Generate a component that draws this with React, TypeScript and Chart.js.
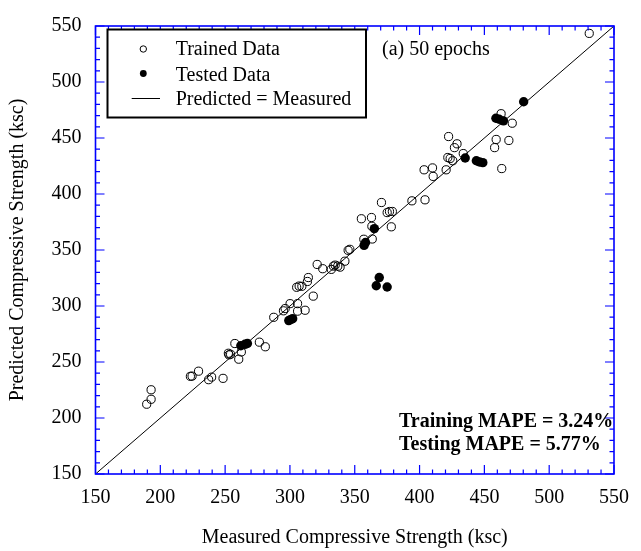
import React, { useEffect, useRef } from "react";
import { Chart, registerables } from "chart.js";

Chart.register(...registerables);

// ---- data ----
const trainedMeasured = [
  189.5, 192.9, 192.9, 223.2, 224.5, 229.5, 237.3, 239.6, 248.4, 252.5,
  253.0, 254.2, 257.5, 260.5, 262.5, 276.4, 281.0, 287.5, 295.0, 296.3,
  300.1, 305.9, 305.9, 311.7, 318.0, 305.2, 307.1, 309.2, 313.5, 314.2,
  321.0, 325.3, 331.9, 333.6, 334.9, 336.9, 338.7, 342.4, 344.9, 346.2,
  355.1, 362.9, 363.2, 357.0, 363.5, 370.6, 375.0, 376.8, 379.0, 378.2,
  394.1, 404.2, 403.5, 410.0, 410.5, 420.5, 421.8, 423.6, 425.6, 426.9,
  428.9, 422.4, 433.7, 463.4, 457.9, 459.1, 468.9, 462.9, 471.5, 530.9,
];
const trainedPredicted = [
  212.3, 216.7, 225.2, 237.2, 237.4, 241.8, 234.2, 236.5, 235.4, 257.8,
  256.4, 256.9, 266.5, 252.5, 259.0, 267.7, 263.6, 289.9, 295.7, 297.7,
  302.1, 302.1, 295.4, 296.2, 308.8, 316.7, 317.8, 317.6, 321.9, 325.4,
  337.1, 333.3, 332.7, 335.6, 336.5, 335.6, 334.7, 340.0, 349.7, 350.6,
  377.9, 379.0, 371.2, 359.6, 359.8, 392.4, 383.4, 384.4, 384.4, 370.7,
  393.9, 394.8, 421.6, 423.3, 415.7, 421.6, 432.6, 431.7, 429.7, 441.4,
  444.8, 451.3, 436.1, 422.7, 441.4, 448.7, 447.8, 471.7, 463.2, 543.4,
];
const testedMeasured = [
  262.1, 265.3, 267.2, 299.1, 300.9, 302.1, 357.2, 358.3, 365.1, 368.9,
  366.6, 375.0, 435.2, 443.8, 446.3, 448.8, 458.9, 461.4, 464.7, 480.3,
];
const testedPredicted = [
  264.5, 265.8, 266.5, 287.0, 288.1, 288.7, 354.1, 356.7, 369.1, 325.4,
  318.1, 317.0, 432.1, 429.7, 428.6, 428.0, 467.6, 466.7, 465.3, 482.4,
];
const equalityLine = [150, 550];
const axisMin = 150;
const axisMax = 550;
const majorStep = 50;
const minorStep = 10;
const legendLabels = ["Trained Data", "Tested Data", "Predicted = Measured"];
const panelLabel = "(a) 50 epochs";
const mapeLines = ["Training MAPE = 3.24%", "Testing MAPE = 5.77%"];
const xTitle = "Measured Compressive Strength (ksc)";
const yTitle = "Predicted Compressive Strength (ksc)";

const FONT = "'Liberation Serif', 'Times New Roman', serif";
const FRAME = "#0000ff";

const framePlugin = {
  id: "frameTicks",
  afterDatasetsDraw(chart: any) {
    const { ctx, chartArea } = chart;
    const { left, right, top, bottom } = chartArea;
    const xs = chart.scales.x;
    const ys = chart.scales.y;
    ctx.save();
    ctx.strokeStyle = FRAME;
    ctx.lineWidth = 1.2;
    ctx.beginPath();
    for (let v = axisMin; v <= axisMax; v += minorStep) {
      const major = v % majorStep === 0;
      const len = major ? 9 : 4.5;
      const px = xs.getPixelForValue(v);
      const py = ys.getPixelForValue(v);
      ctx.moveTo(px, bottom);
      ctx.lineTo(px, bottom - len);
      ctx.moveTo(px, top);
      ctx.lineTo(px, top + len);
      ctx.moveTo(left, py);
      ctx.lineTo(left + len, py);
      ctx.moveTo(right, py);
      ctx.lineTo(right - len, py);
    }
    ctx.stroke();
    ctx.lineWidth = 1.6;
    ctx.strokeRect(left, top, right - left, bottom - top);
    ctx.restore();
  },
  afterDraw(chart: any) {
    const { ctx } = chart;
    ctx.save();
    // legend box
    ctx.fillStyle = "#ffffff";
    ctx.fillRect(107.5, 29.5, 258.5, 88);
    ctx.strokeStyle = "#000";
    ctx.lineWidth = 2;
    ctx.strokeRect(107.5, 29.5, 258.5, 88);
    // markers
    ctx.lineWidth = 1;
    ctx.beginPath();
    ctx.arc(143.3, 49, 3.2, 0, Math.PI * 2);
    ctx.stroke();
    ctx.fillStyle = "#000";
    ctx.beginPath();
    ctx.arc(143.3, 73.5, 3.4, 0, Math.PI * 2);
    ctx.fill();
    ctx.beginPath();
    ctx.moveTo(131.7, 98.5);
    ctx.lineTo(160, 98.5);
    ctx.stroke();
    // legend text
    ctx.font = `20px ${FONT}`;
    ctx.textAlign = "left";
    ctx.textBaseline = "alphabetic";
    const baselines = [55, 80.5, 105.3];
    legendLabels.forEach((t, i) => ctx.fillText(t, 175.7, baselines[i]));
    // panel label
    ctx.fillText(panelLabel, 382, 55);
    // MAPE
    ctx.font = `bold 20px ${FONT}`;
    ctx.fillText(mapeLines[0], 399, 427);
    ctx.fillText(mapeLines[1], 399, 449.5);
    ctx.restore();
  },
};

export default function App() {
  const ref = useRef<HTMLCanvasElement | null>(null);
  useEffect(() => {
    document.body.style.margin = "0";
    const canvas = ref.current!;
    const chart = new Chart(canvas, {
      type: "scatter",
      data: {
        datasets: [
          {
            label: legendLabels[0],
            data: trainedMeasured.map((x, i) => ({ x, y: trainedPredicted[i] })),
            pointStyle: "circle",
            pointRadius: 4.1,
            pointBorderWidth: 1,
            borderColor: "#000",
            backgroundColor: "rgba(0,0,0,0)",
          },
          {
            label: legendLabels[1],
            data: testedMeasured.map((x, i) => ({ x, y: testedPredicted[i] })),
            pointStyle: "circle",
            pointRadius: 4.7,
            pointBorderWidth: 0,
            borderColor: "#000",
            backgroundColor: "#000",
          },
          {
            type: "line",
            label: legendLabels[2],
            data: equalityLine.map((v) => ({ x: v, y: v })),
            borderColor: "#000",
            borderWidth: 1,
            pointRadius: 0,
            showLine: true,
            fill: false,
          } as any,
        ],
      },
      options: {
        animation: false,
        responsive: false,
        devicePixelRatio: 1,
        layout: { padding: { left: 0, right: 16.5, top: 16.3, bottom: 0 } },
        plugins: { legend: { display: false }, tooltip: { enabled: false } },
        scales: {
          x: {
            type: "linear",
            min: axisMin,
            max: axisMax,
            afterFit: (s: any) => {
              s.height = 77;
            },
            grid: { display: false, drawTicks: false },
            border: { display: false },
            ticks: {
              stepSize: majorStep,
              color: "#000",
              padding: 12,
              maxRotation: 0,
              font: { family: FONT, size: 20 },
            },
            title: {
              display: true,
              text: xTitle,
              color: "#000",
              font: { family: FONT, size: 20 },
              padding: { top: 0, bottom: 1 },
            },
          },
          y: {
            type: "linear",
            min: axisMin,
            max: axisMax,
            afterFit: (s: any) => {
              s.width = 95.5;
            },
            grid: { display: false, drawTicks: false },
            border: { display: false },
            ticks: {
              stepSize: majorStep,
              color: "#000",
              padding: 14,
              font: { family: FONT, size: 20 },
            },
            title: {
              display: true,
              text: yTitle,
              color: "#000",
              font: { family: FONT, size: 20 },
              padding: { top: 6, bottom: 0 },
            },
          },
        },
      },
      plugins: [framePlugin],
    } as any);
    return () => chart.destroy();
  }, []);
  return (
    <div style={{ position: "absolute", left: 0, top: 0, width: 641, height: 551, background: "#fff" }}>
      <canvas ref={ref} width={641} height={551} style={{ display: "block" }} />
    </div>
  );
}
